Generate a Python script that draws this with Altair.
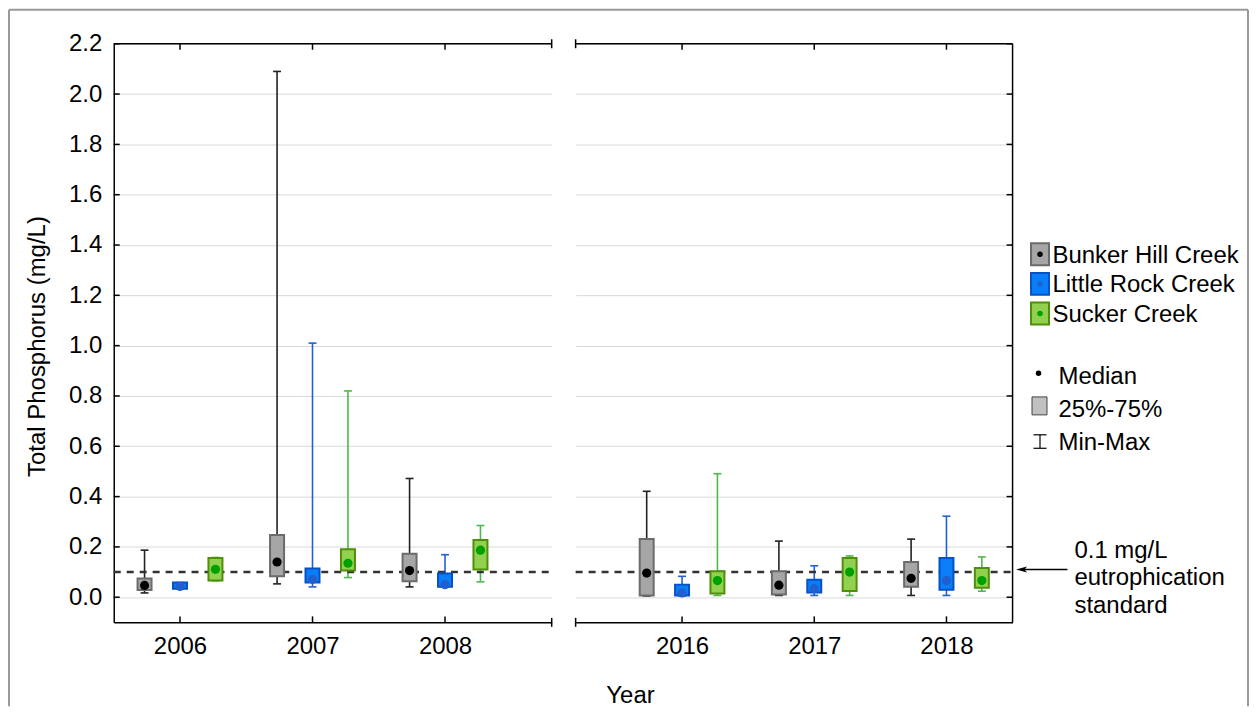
import altair as alt
import pandas as pd

FONT = "Liberation Sans"

years = [2006, 2007, 2008, 2016, 2017, 2018]
left_years = [2006, 2007, 2008]
right_years = [2016, 2017, 2018]
creeks = ["Bunker Hill Creek", "Little Rock Creek", "Sucker Creek"]

bunker_min = [0.017, 0.053, 0.041, 0.005, 0.007, 0.007]
bunker_q1 = [0.029, 0.083, 0.063, 0.007, 0.011, 0.042]
bunker_med = [0.047, 0.140, 0.106, 0.096, 0.048, 0.075]
bunker_q3 = [0.074, 0.247, 0.173, 0.231, 0.103, 0.140]
bunker_max = [0.187, 2.090, 0.472, 0.421, 0.223, 0.231]

little_min = [0.032, 0.041, 0.040, 0.005, 0.007, 0.007]
little_q1 = [0.034, 0.058, 0.042, 0.007, 0.019, 0.030]
little_med = [0.043, 0.071, 0.050, 0.017, 0.034, 0.066]
little_q3 = [0.058, 0.114, 0.094, 0.050, 0.069, 0.156]
little_max = [0.058, 1.010, 0.169, 0.083, 0.125, 0.322]

sucker_min = [0.065, 0.078, 0.061, 0.007, 0.007, 0.024]
sucker_q1 = [0.066, 0.106, 0.110, 0.015, 0.025, 0.038]
sucker_med = [0.111, 0.135, 0.187, 0.066, 0.100, 0.066]
sucker_q3 = [0.156, 0.191, 0.227, 0.103, 0.156, 0.116]
sucker_max = [0.158, 0.820, 0.285, 0.491, 0.164, 0.160]

y_tick_labels = [0.0, 0.2, 0.4, 0.6, 0.8, 1.0, 1.2, 1.4, 1.6, 1.8, 2.0, 2.2]
standard_value = [0.1]
legend_stats = ["Median", "25%-75%", "Min-Max"]
note_lines = ["0.1 mg/L", "eutrophication", "standard"]

# styles
STY = {
    "Bunker Hill Creek": dict(fill="#a6a6a6", stroke="#6b6b6b", whisk="#222222", med="#000000"),
    "Little Rock Creek": dict(fill="#0a7ef8", stroke="#0452c4", whisk="#1f62d4", med="#1f5fd0"),
    "Sucker Creek": dict(fill="#92d050", stroke="#4f8f0a", whisk="#4fb84a", med="#00a000"),
}
OFFSETS = {"Bunker Hill Creek": -0.2675, "Little Rock Creek": 0.0, "Sucker Creek": 0.2675}
BOX_HALF = 0.0528
CAP_HALF = 0.03

stats = {
    "Bunker Hill Creek": (bunker_min, bunker_q1, bunker_med, bunker_q3, bunker_max),
    "Little Rock Creek": (little_min, little_q1, little_med, little_q3, little_max),
    "Sucker Creek": (sucker_min, sucker_q1, sucker_med, sucker_q3, sucker_max),
}
rows = []
for c in creeks:
    mn, q1, md, q3, mx = stats[c]
    for i, yr in enumerate(years):
        p = yr + OFFSETS[c]
        rows.append(dict(creek=c, year=yr, pos=p, b1=p - BOX_HALF, b2=p + BOX_HALF,
                         c1=p - CAP_HALF, c2=p + CAP_HALF,
                         vmin=mn[i], q1=q1[i], med=md[i], q3=q3[i], vmax=mx[i],
                         fcol=STY[c]["fill"], scol=STY[c]["stroke"],
                         wcol=STY[c]["whisk"], mcol=STY[c]["med"]))
df = pd.DataFrame(rows)

H = 580
ys = alt.Scale(domain=[-0.1, 2.2], nice=False, zero=False)
one = pd.DataFrame({"k": [0]})
ytdf = pd.DataFrame({"v": y_tick_labels})
stddf = pd.DataFrame({"std": standard_value})


def vrule(x, y, y2, color="black", w=1.5):
    return alt.Chart(one).mark_rule(color=color, strokeWidth=w).encode(
        x=alt.value(x), y=alt.value(y), y2=alt.value(y2))


def hrule(x, x2, y, color="black", w=1.5):
    return alt.Chart(one).mark_rule(color=color, strokeWidth=w).encode(
        x=alt.value(x), x2=alt.value(x2), y=alt.value(y))


def panel(yrs, dom, W, is_left):
    d = df[df.year.isin(yrs)]
    xs = alt.Scale(domain=dom, nice=False, zero=False)
    base = alt.Chart(d)
    xa = alt.Axis(values=yrs, format="d", labelFontSize=24, labelColor="black",
                  labelFont=FONT, labelPadding=12, ticks=False, domain=True,
                  domainColor="black", domainWidth=1.5, grid=False, title=None)
    if is_left:
        ya = alt.Axis(values=y_tick_labels, format=".1f", labelFontSize=24,
                      labelColor="black", labelFont=FONT, labelPadding=12,
                      ticks=False, domain=True, domainColor="black", domainWidth=1.5,
                      grid=True, gridColor="#d9d9d9", gridWidth=1, title=None)
    else:
        ya = alt.Axis(values=y_tick_labels, labels=False, ticks=False, domain=False,
                      grid=True, gridColor="#d9d9d9", gridWidth=1, title=None)

    def X(f):
        return alt.X(f, type="quantitative", scale=xs, axis=xa)

    def Y(f):
        return alt.Y(f, type="quantitative", scale=ys, axis=ya)

    whisk = base.mark_rule(strokeWidth=1.6).encode(
        x=X("pos"), y=Y("vmin"), y2="vmax", color=alt.Color("wcol:N", scale=None))
    dashed = alt.Chart(stddf).mark_rule(strokeDash=[7, 6], strokeWidth=2.5, color="#333333").encode(
        x=alt.value(0), x2=alt.value(W), y=Y("std"))
    cap_lo = base.mark_rule(strokeWidth=1.6).encode(
        x=X("c1"), x2="c2", y=Y("vmin"), color=alt.Color("wcol:N", scale=None))
    cap_hi = base.mark_rule(strokeWidth=1.6).encode(
        x=X("c1"), x2="c2", y=Y("vmax"), color=alt.Color("wcol:N", scale=None))
    box = base.mark_rect(strokeWidth=2).encode(
        x=X("b1"), x2="b2", y=Y("q1"), y2="q3",
        fill=alt.Fill("fcol:N", scale=None), stroke=alt.Stroke("scol:N", scale=None))
    med = base.mark_circle(size=85, opacity=1).encode(
        x=X("pos"), y=Y("med"), color=alt.Color("mcol:N", scale=None))

    yrdf = pd.DataFrame({"yr": yrs})
    xt_bot = alt.Chart(yrdf).mark_rule(color="black", strokeWidth=1.5).encode(
        x=X("yr"), y=alt.value(H), y2=alt.value(H - 6))
    xt_top = alt.Chart(yrdf).mark_rule(color="black", strokeWidth=1.5).encode(
        x=X("yr"), y=alt.value(0), y2=alt.value(6))
    if is_left:
        yt = alt.Chart(ytdf).mark_rule(color="black", strokeWidth=1.5).encode(
            x=alt.value(0), x2=alt.value(6), y=Y("v"))
        end_x = W
    else:
        yt = alt.Chart(ytdf).mark_rule(color="black", strokeWidth=1.5).encode(
            x=alt.value(W - 6), x2=alt.value(W), y=Y("v"))
        end_x = 0
    layers = [whisk, dashed, cap_lo, cap_hi, box, med, xt_bot, xt_top, yt,
              hrule(0, W, 0), vrule(end_x, -4.5, 4.5), vrule(end_x, H - 4.5, H + 4.5)]
    if not is_left:
        layers.append(vrule(W, 0, H))
    return layers


WL, WR = 439, 438
left_layers = panel(left_years, [2005.5, 2008.805], WL, True)
right_layers = panel(right_years, [2015.195, 2018.5], WR, False)

# outer frame + axis titles (left panel coordinates)
FRAME = "#999999"
left_layers += [
    vrule(-105, -34, 664, FRAME, 2), hrule(-105, 1137, -34, FRAME, 2), vrule(1137, -34, 664, FRAME, 2),
    alt.Chart(one).mark_text(font=FONT, fontSize=24, angle=270, align="center", baseline="middle",
                             color="black").encode(
        x=alt.value(-76), y=alt.value(303.5), text=alt.value("Total Phosphorus (mg/L)")),
    alt.Chart(one).mark_text(font=FONT, fontSize=24, align="center", baseline="alphabetic",
                             color="black").encode(
        x=alt.value(518), y=alt.value(661), text=alt.value("Year")),
]

# legend (right panel coordinates)
sq_y = [211, 240.7, 270.3]
for c, yc in zip(creeks, sq_y):
    right_layers += [
        alt.Chart(one).mark_rect(fill=STY[c]["fill"], stroke=STY[c]["stroke"], strokeWidth=2).encode(
            x=alt.value(456.5), x2=alt.value(474.5), y=alt.value(yc - 11), y2=alt.value(yc + 11)),
        alt.Chart(one).mark_circle(size=30, opacity=1, color=STY[c]["med"]).encode(
            x=alt.value(465.5), y=alt.value(yc)),
        alt.Chart(one).mark_text(font=FONT, fontSize=24, align="left", baseline="middle",
                                 color="black").encode(
            x=alt.value(478), y=alt.value(yc + 1.5), text=alt.value(c)),
    ]
right_layers += [
    alt.Chart(one).mark_circle(size=30, opacity=1, color="black").encode(
        x=alt.value(464), y=alt.value(330.3)),
    alt.Chart(one).mark_rect(fill="#c0c0c0", stroke="#444444", strokeWidth=1).encode(
        x=alt.value(457.5), x2=alt.value(472.5), y=alt.value(354), y2=alt.value(372)),
    vrule(465.5, 392, 405.5, "black", 1.2), hrule(459, 472, 392, "black", 1.2),
    hrule(459, 472, 405.5, "black", 1.2),
]
for label, yc in zip(legend_stats, [334, 367.5, 400.3]):
    right_layers.append(
        alt.Chart(one).mark_text(font=FONT, fontSize=24, align="left", baseline="middle",
                                 color="black").encode(
            x=alt.value(484), y=alt.value(yc), text=alt.value(label)))

# annotation arrow + note
right_layers += [
    hrule(446, 493, 527, "black", 1.3),
    alt.Chart(one).mark_point(shape="M -1 0 L 1 -0.55 L 0.55 0 L 1 0.55 Z", filled=True, size=120,
                              color="black", opacity=1).encode(
        x=alt.value(447), y=alt.value(527)),
    alt.Chart(one).mark_text(font=FONT, fontSize=24, align="left", baseline="alphabetic",
                             lineHeight=27.5, color="black").encode(
        x=alt.value(500), y=alt.value(515.3), text=alt.value(note_lines)),
]

left = alt.layer(*left_layers).properties(width=WL, height=H)
right = alt.layer(*right_layers).properties(width=WR, height=H)

chart = alt.hconcat(left, right, spacing=24, bounds="flush").properties(
    padding=0
).configure(font=FONT).configure_view(stroke=None)

chart.save("out.html", embed_options={"renderer": "svg", "actions": False})
